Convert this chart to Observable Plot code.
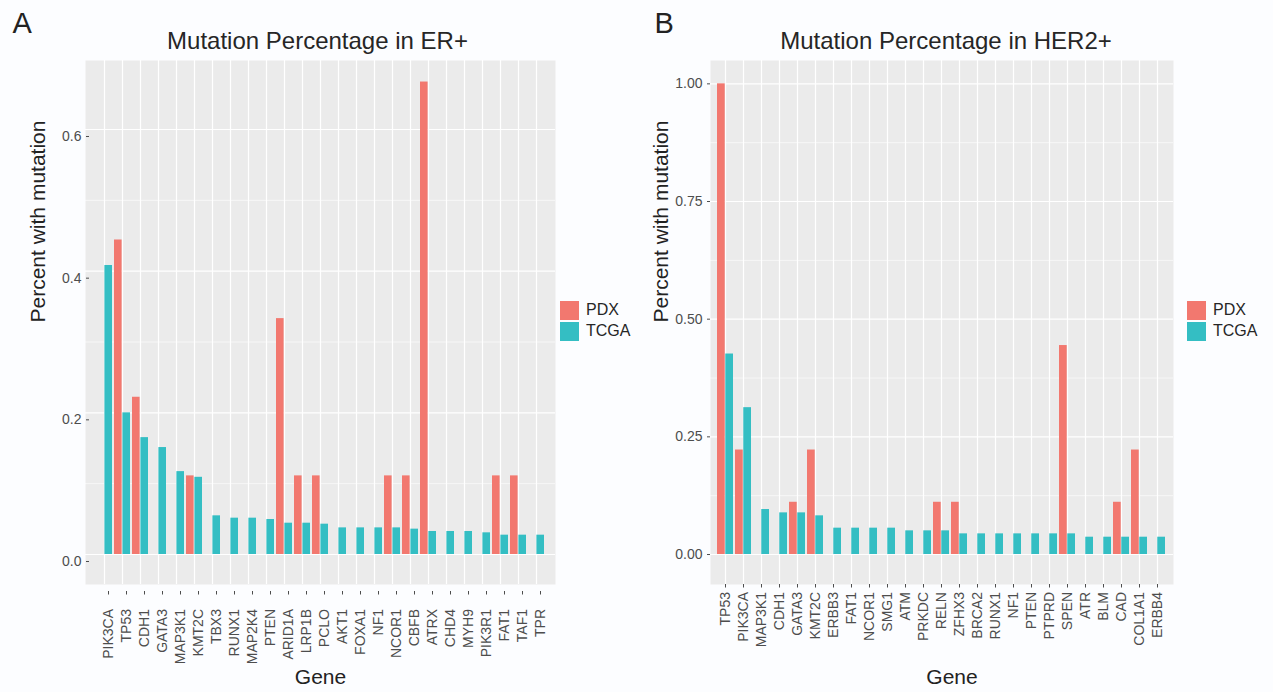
<!DOCTYPE html>
<html><head><meta charset="utf-8">
<script src="https://cdn.jsdelivr.net/npm/d3@7"></script>
<script src="https://cdn.jsdelivr.net/npm/@observablehq/plot@0.6"></script>
<style>
html,body{margin:0;padding:0;background:#fcfdff;}
#root{position:relative;width:1273px;height:692px;font-family:"Liberation Sans",Arial,sans-serif;overflow:hidden;}
.panel{position:absolute;top:0;}
.key{position:absolute;width:19px;height:19px;}
.lab{position:absolute;white-space:nowrap;font-size:16px;line-height:16px;color:#262626;}
</style></head><body><div id="root"></div>
<script>
// ---- Data: panel A (ER+) ----
const erGenes = ["PIK3CA","TP53","CDH1","GATA3","MAP3K1","KMT2C","TBX3","RUNX1","MAP2K4","PTEN","ARID1A","LRP1B","PCLO","AKT1","FOXA1","NF1","NCOR1","CBFB","ATRX","CHD4","MYH9","PIK3R1","FAT1","TAF1","TPR"];
const erPDX = [null,0.444,0.222,null,null,0.111,null,null,null,null,0.333,0.111,0.111,null,null,null,0.111,0.111,0.667,null,null,null,0.111,0.111,null];
const erTCGA = [0.408,0.200,0.165,0.151,0.117,0.109,0.0546,0.0513,0.0513,0.0494,0.0442,0.0442,0.0428,0.0376,0.0376,0.0376,0.0376,0.0358,0.0325,0.0325,0.0325,0.0306,0.0273,0.0273,0.0273];
const erTicks = [0,0.2,0.4,0.6];
const erMinor = [0.1,0.3,0.5];

// ---- Data: panel B (HER2+) ----
const her2Genes = ["TP53","PIK3CA","MAP3K1","CDH1","GATA3","KMT2C","ERBB3","FAT1","NCOR1","SMG1","ATM","PRKDC","RELN","ZFHX3","BRCA2","RUNX1","NF1","PTEN","PTPRD","SPEN","ATR","BLM","CAD","COL1A1","ERBB4"];
const her2PDX = [1.0,0.222,null,null,0.111,0.222,null,null,null,null,null,null,0.111,0.111,null,null,null,null,null,0.444,null,null,0.111,0.222,null];
const her2TCGA = [0.426,0.312,0.0956,0.0885,0.0885,0.0822,0.056,0.056,0.056,0.056,0.0503,0.0503,0.0503,0.0439,0.0439,0.0439,0.0439,0.0439,0.0439,0.0439,0.0368,0.0368,0.0368,0.0368,0.0368];
const her2Ticks = [0,0.25,0.5,0.75,1.0];
const her2Minor = [0.125,0.375,0.625,0.875];

const groups = ["PDX","TCGA"];
const groupColors = ["#f2786f","#34bec3"];
const FONT = '"Liberation Sans", Arial, sans-serif';

function makePanel(o) {
  const rows = [];
  o.genes.forEach((g, i) => {
    if (o.pdx[i] != null) rows.push({gene: g, group: "PDX", value: o.pdx[i]});
    if (o.tcga[i] != null) rows.push({gene: g, group: "TCGA", value: o.tcga[i]});
  });
  const plotW = o.width - o.marginLeft - o.marginRight;
  const step = plotW / (o.genes.length - 0.1 + 0.3);
  const half = step * 0.9 / 2;
  return Plot.plot({
    width: o.width, height: 692,
    marginLeft: o.marginLeft, marginRight: o.marginRight, marginTop: 60, marginBottom: 108,
    style: {fontFamily: FONT, background: "transparent", overflow: "visible", color: "#262626"},
    x: {domain: o.genes, paddingInner: 0.1, paddingOuter: 0.15, align: 0.5, axis: null},
    y: {domain: o.yDomain, axis: null},
    color: {domain: groups, range: groupColors},
    marks: [
      Plot.frame({fill: "#ebebeb", stroke: null}),
      Plot.ruleY(o.minor, {stroke: "white", strokeWidth: 0.6}),
      Plot.ruleY(o.ticks, {stroke: "white", strokeWidth: 1.2}),
      Plot.gridX({stroke: "white", strokeOpacity: 1, strokeWidth: 1.2}),
      Plot.barY(rows.filter(d => d.group === "PDX"), {x: "gene", y: "value", fill: "group", insetLeft: 0, insetRight: half}),
      Plot.barY(rows.filter(d => d.group === "TCGA"), {x: "gene", y: "value", fill: "group", insetLeft: half, insetRight: 0}),
      Plot.axisY({ticks: o.ticks, tickFormat: o.tickFormat, tickSize: 3, tickPadding: 5, fontSize: 14, color: "#4d4d4d", label: null, dx: o.axisDx, dy: o.axisDy}),
      Plot.axisX({tickRotate: -90, tickSize: 3.5, tickPadding: o.xPad, fontSize: 14, color: "#4d4d4d", label: null, dx: o.axisDx, dy: o.axisDy}),
      Plot.text([o.title], {text: d => d, frameAnchor: "top", lineAnchor: "bottom", dy: -11.5, dx: o.titleDx, fontSize: 24, fill: "#262626"}),
      Plot.text([o.letter], {text: d => d, frameAnchor: "top-left", textAnchor: "start", lineAnchor: "bottom", dx: o.letterDx, dy: -27.5, fontSize: 29, fill: "#222"}),
      Plot.text(["Percent with mutation"], {text: d => d, frameAnchor: "left", rotate: -90, dx: o.ylabDx, fontSize: 21, fill: "#222"}),
      Plot.text(["Gene"], {text: d => d, frameAnchor: "bottom", lineAnchor: "bottom", dy: 99, dx: o.geneDx, fontSize: 21, fill: "#222"})
    ]
  });
}

function addLegend(root, left) {
  groups.forEach((g, i) => {
    const k = document.createElement("div");
    k.className = "key";
    k.style.left = left + "px";
    k.style.top = (301 + i * 21) + "px";
    k.style.background = groupColors[i];
    root.appendChild(k);
    const t = document.createElement("div");
    t.className = "lab";
    t.textContent = g;
    t.style.left = (left + 26) + "px";
    t.style.top = (302 + i * 20.5) + "px";
    root.appendChild(t);
  });
}

const root = document.getElementById("root");

const a = makePanel({
  genes: erGenes, pdx: erPDX, tcga: erTCGA, ticks: erTicks, minor: erMinor,
  yDomain: [-0.04235, 0.6974], tickFormat: d3.format(".1f"),
  width: 560, marginLeft: 85, marginRight: 5, axisDx: 4, axisDy: 7, xPad: 14,
  title: "Mutation Percentage in ER+", titleDx: -3, letter: "A", letterDx: -73, ylabDx: -47, geneDx: 0
});
a.classList.add("panel"); a.style.left = "0px";
root.appendChild(a);

const b = makePanel({
  genes: her2Genes, pdx: her2PDX, tcga: her2TCGA, ticks: her2Ticks, minor: her2Minor,
  yDomain: [-0.0637, 1.0496], tickFormat: d3.format(".2f"),
  width: 540, marginLeft: 70, marginRight: 7, axisDx: 0, axisDy: 0, xPad: 4,
  title: "Mutation Percentage in HER2+", titleDx: 4, letter: "B", letterDx: -56, ylabDx: -49, geneDx: 10
});
b.classList.add("panel"); b.style.left = "640px";
root.appendChild(b);

addLegend(root, 560);
addLegend(root, 1187);
</script>
</body></html>
